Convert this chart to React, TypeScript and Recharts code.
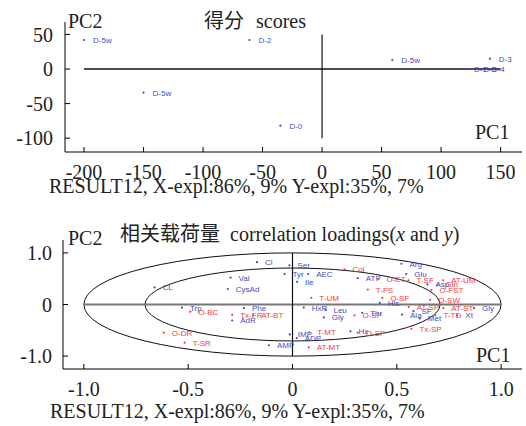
import React from "react";
import {
  ScatterChart,
  Scatter,
  XAxis,
  YAxis,
  ReferenceLine,
  ReferenceArea,
} from "recharts";

// ---- scores (top chart) ----
const scoreNames = ["D-5w", "D-2", "D-5w", "D-0", "D-5w", "D-3", "D-1", "D-5", "D-4"];
const scoreX = [-200, -61, -150, -35, 59, 141, 120, 128, 135];
const scoreY = [42, 42, -34, -82, 13, 15, 0, 0, 0];
const scoreXTicks = [-200, -150, -100, -50, 0, 50, 100, 150];
const scoreYTicks = [-100, -50, 0, 50];

// ---- loadings (bottom chart): X variables (blue) ----
const blueNames = [
  "Cl", "Ser", "Tyr", "AEC", "Ile", "Val", "CysAd", "CL", "ATP", "Arg", "Glu", "Asp",
  "His", "Trp", "Phe", "AdR", "HxR", "Leu", "Gly", "Thr", "Ala", "SF", "Met", "Xt",
  "Gly", "Hx", "IMP", "ADP", "AMP",
];
const blueX = [
  -0.17, -0.015, -0.038, 0.075, 0.022, -0.297, -0.31, -0.661, 0.313, 0.522, 0.545, 0.647,
  0.418, -0.53, -0.233, -0.289, 0.054, 0.158, 0.15, 0.334, 0.525, 0.58, 0.61, 0.79,
  0.87, 0.278, -0.013, 0.02, -0.113,
];
const blueY = [
  0.82, 0.76, 0.59, 0.59, 0.44, 0.52, 0.3, 0.33, 0.51, 0.79, 0.59, 0.39,
  0.03, -0.06, -0.07, -0.31, -0.06, -0.1, -0.25, -0.16, -0.195, -0.13, -0.27, -0.21,
  -0.07, -0.52, -0.58, -0.65, -0.79,
];

// ---- loadings: Y variables (red) ----
const redNames = [
  "Col", "O-ET", "T-SF", "AT-UM", "Gln", "O-FST", "T-FS", "T-UM", "O-SF", "O-SW",
  "AT-SP", "AT-ST", "T-TD", "O-SP", "Tx-SP", "O-SP", "T-MT", "AT-MT", "O-BC", "Tx-FR",
  "AT-BT", "O-DR", "T-SR",
];
const redX = [
  0.249, 0.412, 0.556, 0.722, 0.695, 0.666, 0.361, 0.09, 0.43, 0.66,
  0.557, 0.723, 0.685, 0.297, 0.57, 0.313, 0.08, 0.078, -0.49, -0.289,
  -0.188, -0.617, -0.517,
];
const redY = [
  0.68, 0.49, 0.47, 0.47, 0.39, 0.28, 0.29, 0.13, 0.13, 0.09,
  -0.05, -0.07, -0.21, -0.21, -0.47, -0.546, -0.54, -0.83, -0.14, -0.2,
  -0.21, -0.546, -0.74,
];
const loadTicks = [-1, -0.5, 0, 0.5, 1];

const BLUE = "#3b4fc4";
const RED = "#f43c3c";
const SERIF = "'Liberation Serif', 'Times New Roman', 'Noto Sans CJK SC', serif";
const SANS = "'Liberation Sans', Arial, sans-serif";

const zip = (names: string[], xs: number[], ys: number[]) =>
  names.map((name, i) => ({ name, x: xs[i], y: ys[i] }));

const scoreData = zip(scoreNames, scoreX, scoreY);
const blueData = zip(blueNames, blueX, blueY);
const redData = zip(redNames, redX, redY);

const makeShape = (color: string, dx: number) => (props: any) => {
  const { cx, cy, payload } = props;
  if (cx == null || cy == null) return <g />;
  return (
    <g>
      <circle cx={cx} cy={cy} r={1.1} fill={color} />
      <text x={cx + dx} y={cy + 3} fontSize={8} fontFamily={SANS} fill={color}>
        {payload.name}
      </text>
    </g>
  );
};

const tickStyle = { fontSize: 20, fill: "#222", fontFamily: SERIF };

const fmtLoad = (v: number) => (v === 0 ? "0" : v.toFixed(1));

const Ellipse = (props: any) => {
  const { x, y, width, height } = props;
  return (
    <ellipse
      cx={x + width / 2}
      cy={y + height / 2}
      rx={Math.abs(width) / 2}
      ry={Math.abs(height) / 2}
      fill="none"
      stroke="#111"
      strokeWidth={1}
    />
  );
};

export default function App() {
  return (
    <div style={{ position: "absolute", left: 0, top: 0, width: 526, height: 426, background: "#fff" }}>
      <div style={{ position: "absolute", left: 0, top: 0 }}>
        <ScatterChart width={526} height={205} margin={{ top: 22, right: 4, bottom: 23, left: 0 }}>
          <XAxis
            type="number"
            dataKey="x"
            domain={[-216, 168]}
            allowDataOverflow
            ticks={scoreXTicks}
            height={30}
            stroke="#000"
            tickSize={-5}
            tickMargin={18}
            tick={tickStyle}
          />
          <YAxis
            type="number"
            dataKey="y"
            domain={[-120, 68]}
            allowDataOverflow
            ticks={scoreYTicks}
            width={65}
            stroke="#000"
            tickSize={-5}
            tickMargin={17}
            tick={tickStyle}
          />
          <ReferenceLine segment={[{ x: -200, y: 0 }, { x: 150, y: 0 }]} stroke="#111" strokeWidth={1.5} />
          <ReferenceLine segment={[{ x: 0, y: 50 }, { x: 0, y: -100 }]} stroke="#111" strokeWidth={1.2} />
          <Scatter data={scoreData} shape={makeShape(BLUE, 9)} isAnimationActive={false} />
        </ScatterChart>
      </div>
      <div style={{ position: "absolute", left: 0, top: 205 }}>
        <ScatterChart width={526} height={221} margin={{ top: 35, right: 4, bottom: 27, left: 0 }}>
          <XAxis
            type="number"
            dataKey="x"
            domain={[-1.1, 1.1]}
            allowDataOverflow
            ticks={loadTicks}
            tickFormatter={fmtLoad}
            height={30}
            stroke="#000"
            tickSize={-5}
            tickMargin={18}
            tick={tickStyle}
          />
          <YAxis
            type="number"
            dataKey="y"
            domain={[-1.25, 1.25]}
            allowDataOverflow
            ticks={loadTicks}
            tickFormatter={fmtLoad}
            width={63}
            stroke="#000"
            tickSize={-5}
            tickMargin={16}
            tick={tickStyle}
          />
          <ReferenceArea x1={-1} x2={1} y1={-1} y2={1} shape={Ellipse} />
          <ReferenceArea x1={-0.707} x2={0.707} y1={-0.707} y2={0.707} shape={Ellipse} />
          <ReferenceLine segment={[{ x: -1, y: 0 }, { x: 1, y: 0 }]} stroke="#777" strokeWidth={2.2} />
          <ReferenceLine segment={[{ x: 0, y: 1 }, { x: 0, y: -1 }]} stroke="#111" strokeWidth={1.2} />
          <Scatter data={blueData} shape={makeShape(BLUE, 8)} isAnimationActive={false} />
          <Scatter data={redData} shape={makeShape(RED, 8)} isAnimationActive={false} />
        </ScatterChart>
      </div>
      <svg
        width={526}
        height={426}
        style={{ position: "absolute", left: 0, top: 0, pointerEvents: "none" }}
        fontFamily={SERIF}
        fontSize={20}
        fill="#222"
      >
        <text x={68} y={28}>PC2</text>
        <text x={204} y={28}>
          得分<tspan dx={12}>scores</tspan>
        </text>
        <text x={475} y={139}>PC1</text>
        <text x={49} y={193}>RESULT12, X-expl:86%, 9% Y-expl:35%, 7%</text>
        <text x={68} y={245}>PC2</text>
        <text x={120} y={241}>
          相关载荷量<tspan dx={10}>correlation loadings(</tspan>
          <tspan fontStyle="italic">x</tspan>
          <tspan dx={5}>and</tspan>
          <tspan dx={5} fontStyle="italic">y</tspan>
          <tspan>)</tspan>
        </text>
        <text x={476} y={362}>PC1</text>
        <text x={50} y={418}>RESULT12, X-expl:86%, 9% Y-expl:35%, 7%</text>
      </svg>
    </div>
  );
}
